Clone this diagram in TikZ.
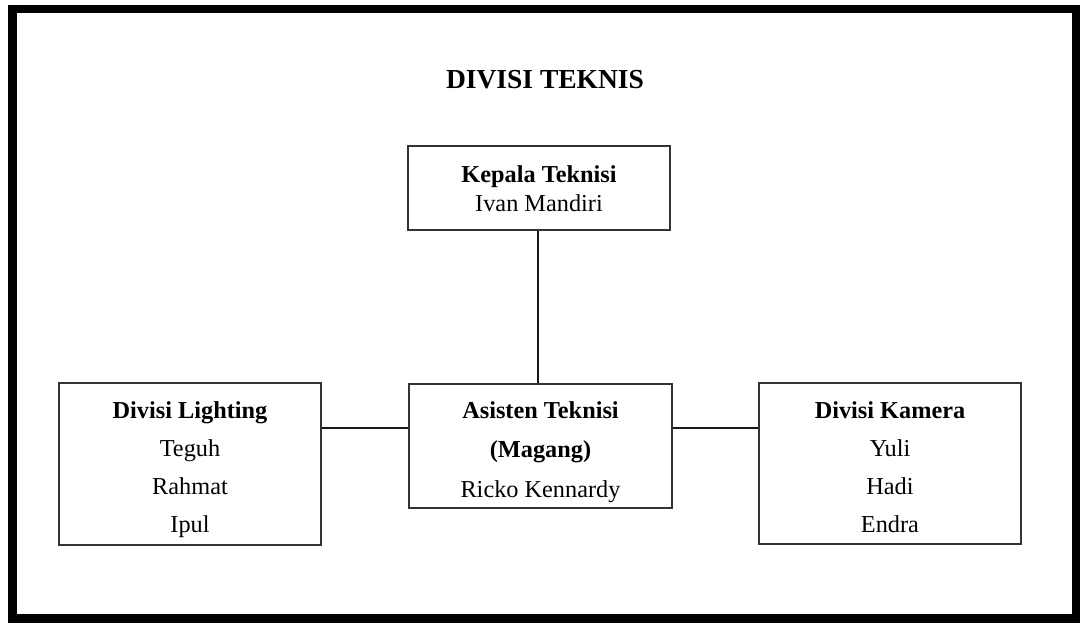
\documentclass[tikz,border=0pt]{standalone}
\usepackage{fontspec}
\setmainfont{Liberation Serif}
\begin{document}
\begin{tikzpicture}[x=1pt,y=-1pt,
  box/.style={draw=black!80, line width=1.3pt, inner sep=0pt},
  txt/.style={align=center, inner sep=0pt, font=\fontsize{24.3}{38}\selectfont},
  link/.style={draw=black!90, line width=2.6pt}]
\useasboundingbox (0,0) rectangle (1080,622);
\draw[line width=8.5pt] (12.5,9) rectangle (1076.5,618.5);
\node[font=\fontsize{27.5}{32}\selectfont\bfseries] (title) at (545,80) {DIVISI TEKNIS};
\node[box, minimum width=262pt, minimum height=84pt] (kepala) at (539,188) {};
\node[box, minimum width=262pt, minimum height=162pt] (lighting) at (190,464) {};
\node[box, minimum width=263pt, minimum height=124pt] (asisten) at (540.5,446) {};
\node[box, minimum width=262pt, minimum height=161pt] (kamera) at (890,463.5) {};
\node[txt, font=\fontsize{24.3}{29}\selectfont] (kepalat) at ([yshift=-1pt]kepala.center)
  {\textbf{Kepala Teknisi}\\Ivan Mandiri};
\node[txt] (lightingt) at ([yshift=-6pt]lighting.center)
  {\textbf{Divisi Lighting}\\Teguh\\Rahmat\\Ipul};
\node[txt, font=\fontsize{24.3}{39.5}\selectfont] (asistent) at ([yshift=-6pt]asisten.center)
  {\textbf{Asisten Teknisi}\\\textbf{(Magang)}\\Ricko Kennardy};
\node[txt] (kamerat) at ([yshift=-4pt]kamera.center)
  {\textbf{Divisi Kamera}\\Yuli\\Hadi\\Endra};
\draw[link] (kepala.south -| 538,0) -- (asisten.north -| 538,0);
\draw[link] (lighting.east |- 0,428) -- (asisten.west |- 0,428);
\draw[link] (asisten.east |- 0,428) -- (kamera.west |- 0,428);
\end{tikzpicture}
\end{document}
